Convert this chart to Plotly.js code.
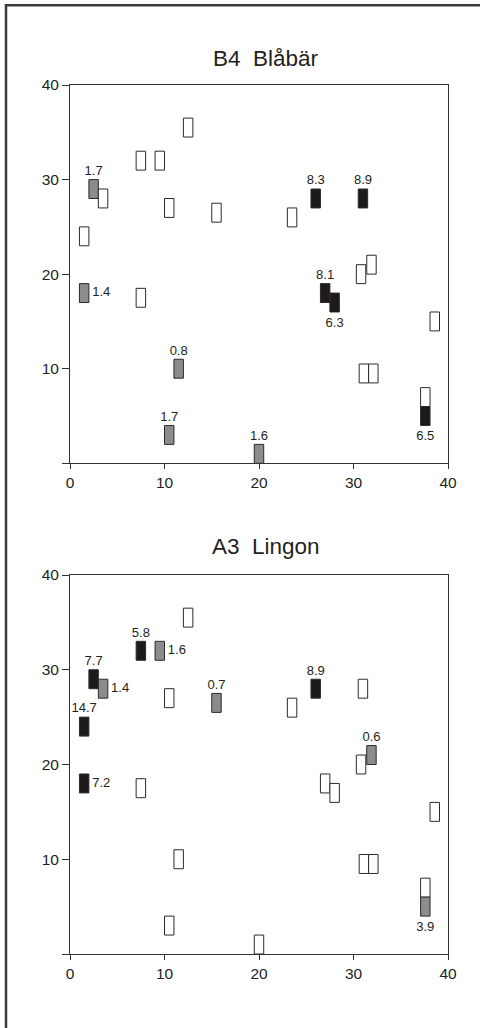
<!DOCTYPE html>
<html>
<head>
<meta charset="utf-8">
<script src="https://cdn.plot.ly/plotly-3.0.1.min.js"></script>
<style>
  html, body { margin: 0; padding: 0; background: #fff; }
  #chart { width: 480px; height: 1028px; }
</style>
</head>
<body>
<div id="chart"></div>
<script>
// Sample plot centres on the 40 x 40 m site grid (same for both panels)
const plotX = [2.5, 3.5, 1.5, 7.5, 9.5, 12.5, 10.5, 15.5, 23.5, 26, 31, 1.5, 7.5, 27, 28, 30.8, 31.9, 38.6, 11.5, 31.1, 32.1, 37.6, 37.6, 10.5, 20];
const plotY = [29, 28, 24, 32, 32, 35.5, 27, 26.5, 26, 28, 28, 18, 17.5, 18, 17, 20, 21, 15, 10, 9.5, 9.5, 7, 5, 3, 1];

// Measured value per sample plot (null = nothing recorded)
const blabarValues = [1.7, null, null, null, null, null, null, null, null, 8.3, 8.9, 1.4, null, 8.1, 6.3, null, null, null, 0.8, null, null, null, 6.5, 1.7, 1.6];
const lingonValues = [7.7, 1.4, 14.7, 5.8, 1.6, null, null, 0.7, null, 8.9, null, 7.2, null, null, null, null, 0.6, null, null, null, null, null, 3.9, null, null];

const panelTitles = ['B4  Blåbär', 'A3  Lingon'];
const axisTicks = [0, 10, 20, 30, 40];
const yTickText = ['', '10', '20', '30', '40'];

// Where each value label sits relative to its rectangle
const blabarLabelSide = ['top', '', '', '', '', '', '', '', '', 'top', 'top', 'right', '', 'top', 'bottom', '', '', '', 'top', '', '', '', 'bottom', 'top', 'top'];
const lingonLabelSide = ['top', 'right', 'top', 'top', 'right', '', '', 'top', '', 'top', '', 'right', '', '', '', '', 'top', '', '', '', '', '', 'bottom', '', ''];

// Rectangle size in axis units, label gaps and shading classes
const RECT_W = 1.0, RECT_H = 2.0;
const GAP_TOP = 0.15, GAP_SIDE = 0.35, GAP_BOTTOM = 0.55;
const HIGH_LEVEL = 5;
const COL_HIGH = '#1e1a1b', COL_LOW = '#8c8c8c', COL_NONE = '#ffffff';
const INK = '#231f20';
const FONT = 'Liberation Sans, Arial, Helvetica, sans-serif';

function fillFor(v) {
  if (v === null) return COL_NONE;
  return v >= HIGH_LEVEL ? COL_HIGH : COL_LOW;
}

function panelTraces(values, sides, xa, ya) {
  const rects = {
    type: 'bar',
    x: plotX,
    y: plotX.map(() => RECT_H),
    base: plotY.map(y => y - RECT_H / 2),
    width: RECT_W,
    marker: {
      color: values.map(fillFor),
      line: { color: '#2b2b2b', width: 1 }
    },
    xaxis: xa, yaxis: ya,
    hoverinfo: 'skip',
    showlegend: false
  };
  const lx = [], ly = [], lt = [], lp = [];
  values.forEach((v, i) => {
    if (v === null) return;
    const side = sides[i];
    if (side === 'top') { lx.push(plotX[i]); ly.push(plotY[i] + RECT_H / 2 + GAP_TOP); lp.push('top center'); }
    else if (side === 'bottom') { lx.push(plotX[i]); ly.push(plotY[i] - RECT_H / 2 - GAP_BOTTOM); lp.push('bottom center'); }
    else { lx.push(plotX[i] + RECT_W / 2 + GAP_SIDE); ly.push(plotY[i]); lp.push('middle right'); }
    lt.push(v.toFixed(1));
  });
  const labels = {
    type: 'scatter',
    mode: 'text',
    x: lx, y: ly, text: lt,
    textposition: lp,
    textfont: { family: FONT, size: 13, color: INK },
    cliponaxis: false,
    xaxis: xa, yaxis: ya,
    hoverinfo: 'skip',
    showlegend: false
  };
  return [rects, labels];
}

const data = [
  ...panelTraces(blabarValues, blabarLabelSide, 'x', 'y'),
  ...panelTraces(lingonValues, lingonLabelSide, 'x2', 'y2')
];

const W = 480, H = 1028;
const xDom = [70 / W, 448 / W];
const yDom1 = [1 - 463.3 / H, 1 - 85 / H];
const yDom2 = [1 - 954 / H, 1 - 575 / H];

function xAxis(anchor) {
  return {
    domain: xDom, anchor: anchor, range: [0, 40],
    tickmode: 'array', tickvals: axisTicks,
    ticks: 'outside', ticklen: 5, tickcolor: '#333', tickwidth: 1,
    showline: true, mirror: true, linecolor: '#333', linewidth: 1,
    showgrid: false, zeroline: false, fixedrange: true,
    tickfont: { family: FONT, size: 15.5, color: INK }
  };
}
function yAxis(anchor, dom) {
  return {
    domain: dom, anchor: anchor, range: [0, 40],
    tickmode: 'array', tickvals: axisTicks, ticktext: yTickText,
    ticks: 'outside', ticklen: 7, tickcolor: '#333', tickwidth: 1,
    showline: true, mirror: true, linecolor: '#333', linewidth: 1,
    showgrid: false, zeroline: false, fixedrange: true,
    tickfont: { family: FONT, size: 15.5, color: INK }
  };
}

const layout = {
  width: W, height: H,
  margin: { l: 0, r: 0, t: 0, b: 0 },
  paper_bgcolor: '#fff', plot_bgcolor: '#fff',
  barmode: 'overlay',
  showlegend: false,
  xaxis: xAxis('y'), yaxis: yAxis('x', yDom1),
  xaxis2: xAxis('y2'), yaxis2: yAxis('x2', yDom2),
  annotations: [
    { text: panelTitles[0], xref: 'paper', yref: 'paper', x: 265.5 / W, y: 1 - 58 / H,
      xanchor: 'center', yanchor: 'middle', showarrow: false,
      font: { family: FONT, size: 22.5, color: INK } },
    { text: panelTitles[1], xref: 'paper', yref: 'paper', x: 266 / W, y: 1 - 546.5 / H,
      xanchor: 'center', yanchor: 'middle', showarrow: false,
      font: { family: FONT, size: 22.5, color: INK } }
  ],
  shapes: [
    // frame around the figure: top and left edges
    { type: 'line', xref: 'paper', yref: 'paper', x0: 6 / W, x1: 1, y0: 1 - 5.2 / H, y1: 1 - 5.2 / H,
      line: { color: '#3a3a3a', width: 2.5 } },
    { type: 'line', xref: 'paper', yref: 'paper', x0: 6 / W, x1: 6 / W, y0: 0, y1: 1 - 4 / H,
      line: { color: '#3a3a3a', width: 2.5 } }
  ]
};

Plotly.newPlot('chart', data, layout, { displayModeBar: false, staticPlot: true });
</script>
</body>
</html>
